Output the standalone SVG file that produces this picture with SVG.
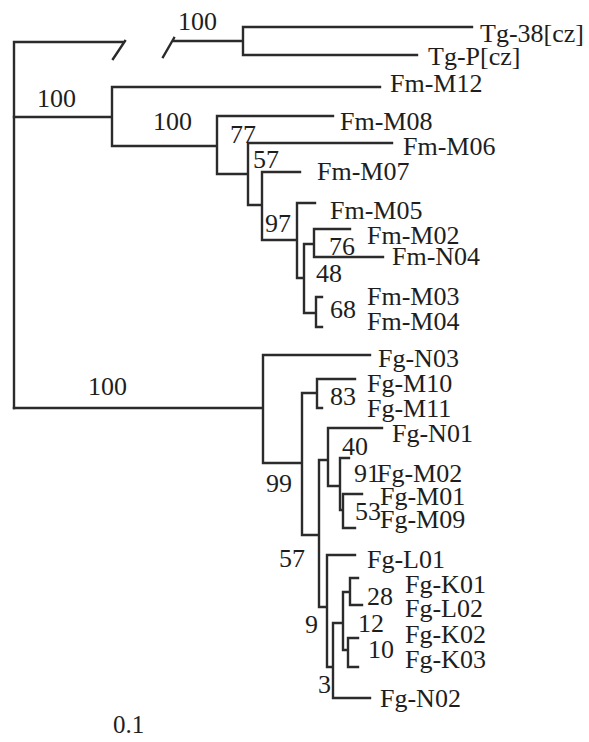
<svg xmlns="http://www.w3.org/2000/svg" width="589" height="742" viewBox="0 0 589 742">
<style>
.br{fill:none;stroke:#2b2b2b;stroke-width:2.4;stroke-linecap:square}
text{font-family:"Liberation Serif","Times New Roman",serif;font-size:26px;fill:#1e1e1e}
.bs{font-size:25px}
</style>
<rect width="589" height="742" fill="#ffffff"/>
<g id="connectors" class="br">
<path d="M14,42 V408 M14,42 H123 M113,59 L125,41 M163,57 L174,38 M173,41 H243 M243,27 V55 M243,27 H472 M243,55 H417"/>
<path d="M14,117 H112 M112,87 V146 M112,87 H380 M112,146 H217 M217,116 V174 M217,116 H333 M217,174 H248 M248,143 V205 M248,143 H392 M248,205 H262 M262,172 V240 M262,172 H300 M262,240 H297 M297,203 V278 M297,203 H315 M297,278 H304 M304,244 V313 M304,244 H314 M314,229 V257 M314,229 H350 M314,257 H383 M304,313 H316 M316,297 V327 M316,297 H322 M316,327 H322"/>
<path d="M14,408 H263 M263,355 V463 M263,355 H370 M263,463 H302 M302,393 V535 M302,393 H317 M317,379 V408 M317,379 H355 M317,408 H322 M302,535 H319 M319,460 V607 M319,460 H328 M328,428 V486 M328,428 H382 M328,486 H340 M340,458 V510 M340,458 H349 M340,510 H343 M343,494 V528 M343,494 H362 M343,528 H355 M319,607 H327 M327,555 V667 M327,555 H355 M327,667 H333 M333,623 V698 M333,698 H370 M333,623 H343 M343,592 V650 M343,592 H350 M350,578 V605 M350,578 H358 M350,605 H362 M343,650 H348 M348,638 V667 M348,638 H358 M348,667 H358"/>
</g>
<g id="leaf-Tg-38"><text x="480" y="42">Tg-38[cz]</text></g>
<g id="leaf-Tg-P"><text x="428" y="65">Tg-P[cz]</text></g>
<g id="leaf-Fm-M12"><text x="390" y="92">Fm-M12</text></g>
<g id="leaf-Fm-M08"><text x="340" y="130">Fm-M08</text></g>
<g id="leaf-Fm-M06"><text x="403" y="155">Fm-M06</text></g>
<g id="leaf-Fm-M07"><text x="317" y="180">Fm-M07</text></g>
<g id="leaf-Fm-M05"><text x="330" y="219">Fm-M05</text></g>
<g id="leaf-Fm-M02"><text x="367" y="244">Fm-M02</text></g>
<g id="leaf-Fm-N04"><text x="392" y="265">Fm-N04</text></g>
<g id="leaf-Fm-M03"><text x="367" y="305">Fm-M03</text></g>
<g id="leaf-Fm-M04"><text x="367" y="330">Fm-M04</text></g>
<g id="leaf-Fg-N03"><text x="378" y="367">Fg-N03</text></g>
<g id="leaf-Fg-M10"><text x="367" y="392">Fg-M10</text></g>
<g id="leaf-Fg-M11"><text x="367" y="417">Fg-M11</text></g>
<g id="leaf-Fg-N01"><text x="392" y="442">Fg-N01</text></g>
<g id="leaf-Fg-M02"><text x="377" y="482">Fg-M02</text></g>
<g id="leaf-Fg-M01"><text x="380" y="505">Fg-M01</text></g>
<g id="leaf-Fg-M09"><text x="380" y="528">Fg-M09</text></g>
<g id="leaf-Fg-L01"><text x="367" y="568">Fg-L01</text></g>
<g id="leaf-Fg-K01"><text x="405" y="593">Fg-K01</text></g>
<g id="leaf-Fg-L02"><text x="405" y="617">Fg-L02</text></g>
<g id="leaf-Fg-K02"><text x="405" y="643">Fg-K02</text></g>
<g id="leaf-Fg-K03"><text x="405" y="668">Fg-K03</text></g>
<g id="leaf-Fg-N02"><text x="380" y="707">Fg-N02</text></g>
<g id="support" class="bs">
<g id="bs-tg"><text x="178" y="30">100</text></g>
<g id="bs-fm"><text x="37" y="107">100</text></g>
<g id="bs-fm2"><text x="153" y="130">100</text></g>
<g id="bs-77"><text x="230" y="143">77</text></g>
<g id="bs-57a"><text x="253" y="168">57</text></g>
<g id="bs-97"><text x="265" y="232">97</text></g>
<g id="bs-76"><text x="329" y="255">76</text></g>
<g id="bs-48"><text x="316" y="282">48</text></g>
<g id="bs-68"><text x="330" y="318">68</text></g>
<g id="bs-fg"><text x="88" y="395">100</text></g>
<g id="bs-83"><text x="330" y="405">83</text></g>
<g id="bs-40"><text x="342" y="455">40</text></g>
<g id="bs-91"><text x="354" y="482">91</text></g>
<g id="bs-53"><text x="355" y="520">53</text></g>
<g id="bs-99"><text x="266" y="492">99</text></g>
<g id="bs-57b"><text x="279" y="567">57</text></g>
<g id="bs-28"><text x="367" y="605">28</text></g>
<g id="bs-12"><text x="358" y="632">12</text></g>
<g id="bs-10"><text x="368" y="658">10</text></g>
<g id="bs-9"><text x="305" y="633">9</text></g>
<g id="bs-3"><text x="318" y="693">3</text></g>
</g>
<g id="scale"><text class="bs" x="113" y="733">0.1</text></g>
</svg>
